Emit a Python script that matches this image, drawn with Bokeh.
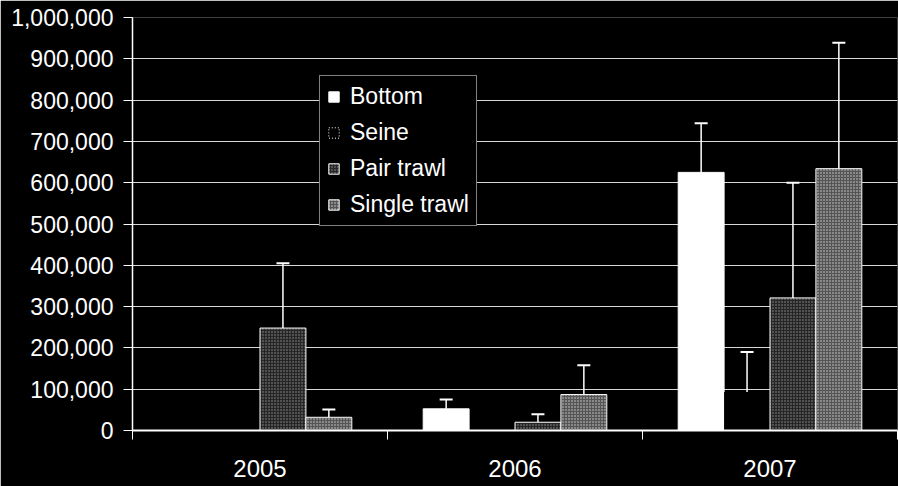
import numpy as np
from bokeh.plotting import figure
from bokeh.models import (ColumnDataSource, Range1d, FixedTicker, NumeralTickFormatter,
                          Whisker, TeeHead, Legend, LegendItem)
from bokeh.embed import file_html
from bokeh.resources import INLINE

years = ["2005", "2006", "2007"]
series = ["Bottom", "Seine", "Pair trawl", "Single trawl"]
bottom = [0, 52500, 625000]
seine = [0, 0, 93000]
pair_trawl = [248000, 20000, 321000]
single_trawl = [32000, 87000, 634000]
bottom_err = [None, 75000, 744000]
seine_err = [None, None, 190000]
pair_trawl_err = [405000, 39500, 600000]
single_trawl_err = [51000, 158000, 939000]
y_ticks = list(range(0, 1000001, 100000))

FONT = "Liberation Sans"
n = len(years)
centers = [i + 0.5 for i in range(n)]
bounds = list(range(n + 1))
bar_w = 0.18
offsets = [-0.27, -0.09, 0.09, 0.27]

p = figure(width=898, height=486, x_range=Range1d(0, n), y_range=Range1d(0, 1000000),
           output_backend="svg", toolbar_location=None,
           background_fill_color="black", border_fill_color="black",
           min_border_left=132, min_border_right=1, min_border_top=17, min_border_bottom=56)
p.outline_line_color = None

# axes
xa = p.xaxis[0]
xa.ticker = FixedTicker(ticks=centers, minor_ticks=bounds)
xa.major_label_overrides = {c: y for c, y in zip(centers, years)}
xa.major_tick_line_color = None
xa.major_tick_out = 0
xa.major_tick_in = 0
xa.minor_tick_line_color = "white"
xa.minor_tick_out = 9
xa.minor_tick_in = 0
xa.axis_line_color = "white"
xa.axis_line_width = 2
xa.major_label_text_color = "white"
xa.major_label_text_font = FONT
xa.major_label_text_font_size = "24px"
xa.major_label_standoff = 20

ya = p.yaxis[0]
ya.ticker = FixedTicker(ticks=y_ticks, minor_ticks=[])
ya.formatter = NumeralTickFormatter(format="0,0")
ya.axis_line_color = "white"
ya.axis_line_width = 1.5
ya.major_tick_line_color = "white"
ya.major_tick_out = 9
ya.major_tick_in = 0
ya.minor_tick_line_color = None
ya.major_label_text_color = "white"
ya.major_label_text_font = FONT
ya.major_label_text_font_size = "23px"
ya.major_label_standoff = 10

p.xgrid.grid_line_color = None
p.ygrid.ticker = FixedTicker(ticks=y_ticks, minor_ticks=[])
p.ygrid.grid_line_color = "#d8d8d8"
p.ygrid.grid_line_width = 1

styles = [
    dict(fill_color="white", line_color="white", line_width=1),
    dict(fill_color="black", line_color=None),
    dict(fill_color="#262626", line_color="white", line_width=1,
         hatch_pattern=".", hatch_color="white", hatch_alpha=0.5, hatch_scale=3, hatch_weight=1),
    dict(fill_color="#555555", line_color="white", line_width=1,
         hatch_pattern=".", hatch_color="white", hatch_alpha=0.75, hatch_scale=3, hatch_weight=1),
]
values = [bottom, seine, pair_trawl, single_trawl]
errs = [bottom_err, seine_err, pair_trawl_err, single_trawl_err]

renderers = []
for k in range(4):
    src = ColumnDataSource(dict(x=[c + offsets[k] for c in centers], top=values[k]))
    r = p.vbar(x="x", top="top", width=bar_w, source=src, **styles[k])
    renderers.append(r)
    idx = [i for i, e in enumerate(errs[k]) if e is not None]
    esrc = ColumnDataSource(dict(x=[centers[i] + offsets[k] for i in idx],
                                 lo=[values[k][i] for i in idx],
                                 hi=[errs[k][i] for i in idx]))
    w = Whisker(source=esrc, base="x", lower="lo", upper="hi", dimension="height",
                line_color="white", line_width=1.5,
                upper_head=TeeHead(size=13, line_color="white", line_width=2),
                lower_head=None)
    p.add_layout(w)

# legend glyph for Seine (dotted outline square)
dummy = p.vbar(x=[np.nan], top=[np.nan], width=bar_w, fill_color="black", line_color="white",
               line_dash="1 2", line_width=1)
legend_renderers = [renderers[0], dummy, renderers[2], renderers[3]]
legend = Legend(items=[LegendItem(label=s, renderers=[r]) for s, r in zip(series, legend_renderers)],
                location=(187, 204), background_fill_color="black", background_fill_alpha=1,
                border_line_color="white", border_line_width=1,
                label_text_color="white", label_text_font=FONT, label_text_font_size="23px",
                glyph_width=13, glyph_height=13, label_standoff=10, label_height=25,
                spacing=9, padding=7, margin=0)
p.add_layout(legend)

open("out.html", "w").write(file_html(p, INLINE))
